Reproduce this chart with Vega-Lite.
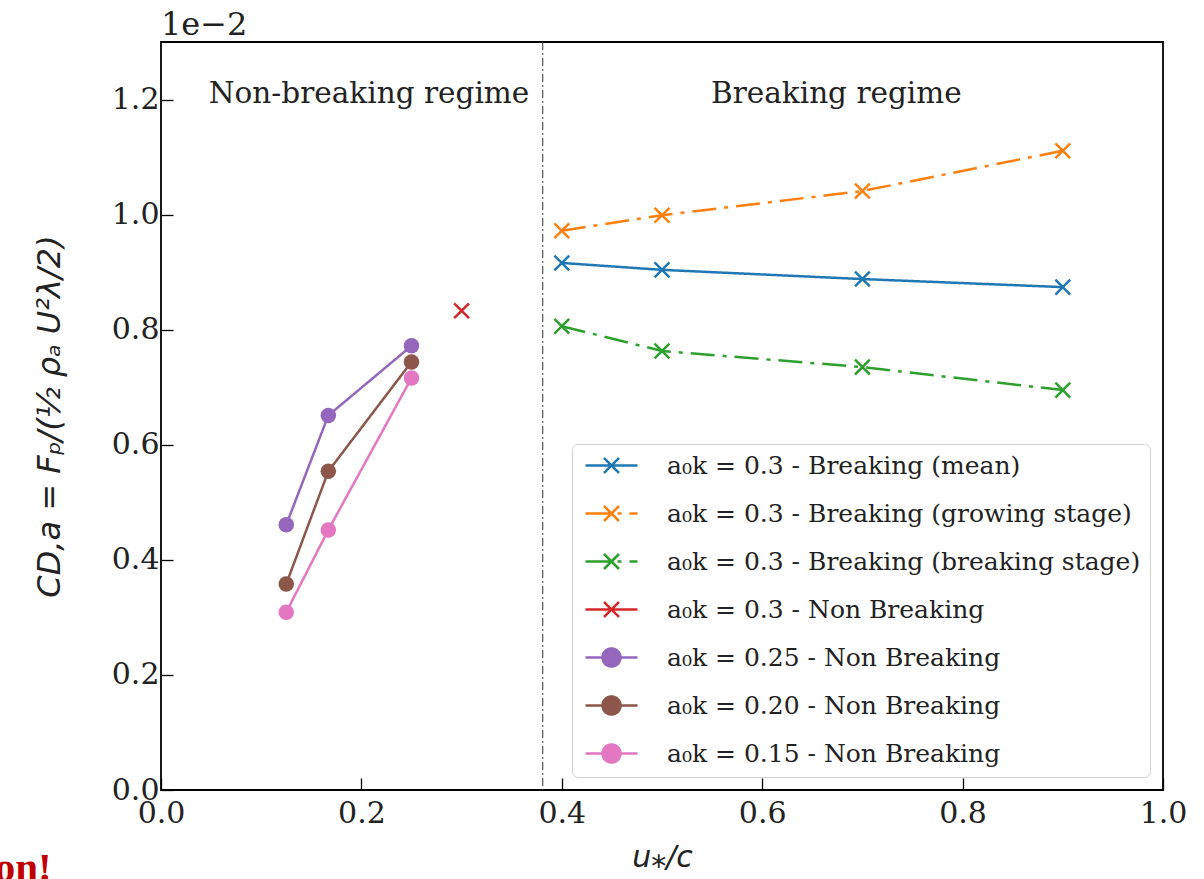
{
  "$schema": "https://vega.github.io/schema/vega-lite/v6.json",
  "width": 1002,
  "height": 748,
  "autosize": {"type": "none"},
  "padding": {"left": 161, "top": 42, "right": 41, "bottom": 89},
  "background": "white",
  "config": {
    "view": {"stroke": "#000000", "strokeWidth": 1.8},
    "font": "DejaVu Serif"
  },
  "datasets": {
    "drag": [
      {"series": "a₀k = 0.3 - Breaking (mean)", "x": 0.4, "y": 0.916},
      {"series": "a₀k = 0.3 - Breaking (mean)", "x": 0.5, "y": 0.904},
      {"series": "a₀k = 0.3 - Breaking (mean)", "x": 0.7, "y": 0.888},
      {"series": "a₀k = 0.3 - Breaking (mean)", "x": 0.9, "y": 0.874},
      {"series": "a₀k = 0.3 - Breaking (growing stage)", "x": 0.4, "y": 0.972},
      {"series": "a₀k = 0.3 - Breaking (growing stage)", "x": 0.5, "y": 0.999},
      {"series": "a₀k = 0.3 - Breaking (growing stage)", "x": 0.7, "y": 1.041},
      {"series": "a₀k = 0.3 - Breaking (growing stage)", "x": 0.9, "y": 1.111},
      {"series": "a₀k = 0.3 - Breaking (breaking stage)", "x": 0.4, "y": 0.806},
      {"series": "a₀k = 0.3 - Breaking (breaking stage)", "x": 0.5, "y": 0.763},
      {"series": "a₀k = 0.3 - Breaking (breaking stage)", "x": 0.7, "y": 0.735},
      {"series": "a₀k = 0.3 - Breaking (breaking stage)", "x": 0.9, "y": 0.695},
      {"series": "a₀k = 0.3 - Non Breaking", "x": 0.3, "y": 0.833},
      {"series": "a₀k = 0.25 - Non Breaking", "x": 0.125, "y": 0.461},
      {"series": "a₀k = 0.25 - Non Breaking", "x": 0.167, "y": 0.651},
      {"series": "a₀k = 0.25 - Non Breaking", "x": 0.25, "y": 0.772},
      {"series": "a₀k = 0.20 - Non Breaking", "x": 0.125, "y": 0.358},
      {"series": "a₀k = 0.20 - Non Breaking", "x": 0.167, "y": 0.554},
      {"series": "a₀k = 0.20 - Non Breaking", "x": 0.25, "y": 0.744},
      {"series": "a₀k = 0.15 - Non Breaking", "x": 0.125, "y": 0.309},
      {"series": "a₀k = 0.15 - Non Breaking", "x": 0.167, "y": 0.452},
      {"series": "a₀k = 0.15 - Non Breaking", "x": 0.25, "y": 0.716}
    ]
  },
  "layer": [
    {
      "data": {"values": [{"x": 0.381}]},
      "mark": {"type": "rule", "color": "#333333", "strokeWidth": 1, "strokeDash": [8, 3, 2, 3]},
      "encoding": {
        "x": {"field": "x", "type": "quantitative", "scale": {"domain": [0, 1], "nice": false, "zero": false}}
      }
    },
    {
      "data": {"name": "drag"},
      "mark": {"type": "line", "strokeWidth": 2.5},
      "encoding": {
        "x": {
          "field": "x", "type": "quantitative",
          "scale": {"domain": [0, 1], "nice": false, "zero": false},
          "axis": {
            "title": "u⁎/c", "titleFont": "DejaVu Sans", "titleFontStyle": "italic", "titleFontWeight": "normal",
            "titleFontSize": 30, "titleColor": "#222222", "titlePadding": 14,
            "values": [0, 0.2, 0.4, 0.6, 0.8, 1.0], "format": ".1f",
            "labelFont": "DejaVu Serif", "labelFontSize": 30, "labelColor": "#222222", "labelPadding": 20,
            "labelFlush": false, "labelOverlap": false,
            "tickSize": -12, "tickColor": "#000000", "tickWidth": 1.3,
            "domain": false, "grid": false
          }
        },
        "y": {
          "field": "y", "type": "quantitative",
          "scale": {"domain": [0, 1.3], "nice": false, "zero": false},
          "axis": {
            "title": "CD,a = Fₚ/(½ ρₐ U²λ/2)", "titleFont": "DejaVu Sans", "titleFontStyle": "italic", "titleFontWeight": "normal",
            "titleFontSize": 32, "titleColor": "#222222", "titlePadding": 45,
            "values": [0, 0.2, 0.4, 0.6, 0.8, 1.0, 1.2], "format": ".1f",
            "labelFont": "DejaVu Serif", "labelFontSize": 30, "labelColor": "#222222", "labelPadding": 14,
            "labelFlush": false, "labelOverlap": false,
            "tickSize": -12, "tickColor": "#000000", "tickWidth": 1.3,
            "domain": false, "grid": false
          }
        },
        "color": {
          "field": "series", "type": "nominal",
          "scale": {
            "domain": [
              "a₀k = 0.3 - Breaking (mean)",
              "a₀k = 0.3 - Breaking (growing stage)",
              "a₀k = 0.3 - Breaking (breaking stage)",
              "a₀k = 0.3 - Non Breaking",
              "a₀k = 0.25 - Non Breaking",
              "a₀k = 0.20 - Non Breaking",
              "a₀k = 0.15 - Non Breaking"
            ],
            "range": ["#1f77b4", "#ff7f0e", "#2ca02c", "#d62728", "#9467bd", "#8c564b", "#e377c2"]
          },
          "legend": {
            "title": null,
            "orient": "bottom-right",
            "offset": 13,
            "padding": 9,
            "fillColor": "#ffffff",
            "strokeColor": "#d0d0d0",
            "cornerRadius": 6,
            "symbolSize": 400,
            "symbolOffset": 18,
            "symbolStrokeWidth": 2.5,
            "labelFont": "DejaVu Serif",
            "labelFontSize": 25,
            "labelColor": "#222222",
            "labelOffset": 43,
            "labelLimit": 600,
            "rowPadding": 19,
            "encode": {
              "symbols": {
                "update": {
                  "shape": {"signal": "datum.index < 4 ? 'M-2.6,0H2.6M-0.75,-0.75L0.75,0.75M-0.75,0.75L0.75,-0.75M0,-0.9L0,-0.9M0,0.9L0,0.9' : 'M-2.6,0H2.6M-0.9,0A0.9,0.9 0 1,1 0.9,0A0.9,0.9 0 1,1 -0.9,0Z'"},
                  "fill": {"scale": "color", "field": "value"},
                  "stroke": {"scale": "color", "field": "value"},
                  "strokeWidth": {"value": 2.5},
                  "strokeDash": {"signal": "datum.index == 1 || datum.index == 2 ? [24, 6, 3, 6] : [1, 0]"},
                  "opacity": {"value": 1}
                }
              }
            }
          }
        },
        "strokeDash": {
          "field": "series", "type": "nominal",
          "scale": {
            "domain": [
              "a₀k = 0.3 - Breaking (mean)",
              "a₀k = 0.3 - Breaking (growing stage)",
              "a₀k = 0.3 - Breaking (breaking stage)",
              "a₀k = 0.3 - Non Breaking",
              "a₀k = 0.25 - Non Breaking",
              "a₀k = 0.20 - Non Breaking",
              "a₀k = 0.15 - Non Breaking"
            ],
            "range": [[1, 0], [24, 8, 4, 8], [24, 8, 4, 8], [1, 0], [1, 0], [1, 0], [1, 0]]
          },
          "legend": null
        }
      }
    },
    {
      "data": {"name": "drag"},
      "transform": [{"filter": "indexof(datum.series, 'Breaking (') >= 0 || datum.series == 'a₀k = 0.3 - Non Breaking'"}],
      "mark": {"type": "point", "filled": false, "shape": "M-1,-1L1,1M-1,1L1,-1", "size": 220, "strokeWidth": 2.5, "opacity": 1},
      "encoding": {
        "x": {"field": "x", "type": "quantitative"},
        "y": {"field": "y", "type": "quantitative"},
        "color": {"field": "series", "type": "nominal"}
      }
    },
    {
      "data": {"name": "drag"},
      "transform": [{"filter": "indexof(datum.series, 'Breaking (') < 0 && datum.series != 'a₀k = 0.3 - Non Breaking'"}],
      "mark": {"type": "point", "filled": true, "shape": "circle", "size": 240, "opacity": 1},
      "encoding": {
        "x": {"field": "x", "type": "quantitative"},
        "y": {"field": "y", "type": "quantitative"},
        "color": {"field": "series", "type": "nominal"}
      }
    },
    {
      "data": {"values": [
        {"text": "Non-breaking regime", "x": 0.2076, "y": 1.21},
        {"text": "Breaking regime", "x": 0.674, "y": 1.21}
      ]},
      "mark": {"type": "text", "font": "DejaVu Serif", "fontSize": 29.5, "color": "#222222", "align": "center", "baseline": "middle"},
      "encoding": {
        "x": {"field": "x", "type": "quantitative"},
        "y": {"field": "y", "type": "quantitative"},
        "text": {"field": "text"}
      }
    },
    {
      "data": {"values": [{"text": "1e−2", "x": 0, "y": 1.3}]},
      "mark": {"type": "text", "font": "DejaVu Serif", "fontSize": 32, "color": "#222222", "align": "left", "baseline": "alphabetic", "dy": -7, "clip": false},
      "encoding": {
        "x": {"field": "x", "type": "quantitative"},
        "y": {"field": "y", "type": "quantitative"},
        "text": {"field": "text"}
      }
    },
    {
      "data": {"values": [{"text": "on!", "x": -0.109, "y": -0.158}]},
      "mark": {"type": "text", "font": "Liberation Serif", "fontSize": 41, "fontWeight": "bold", "color": "#c00000", "align": "right", "baseline": "alphabetic", "clip": false},
      "encoding": {
        "x": {"field": "x", "type": "quantitative"},
        "y": {"field": "y", "type": "quantitative"},
        "text": {"field": "text"}
      }
    }
  ]
}
